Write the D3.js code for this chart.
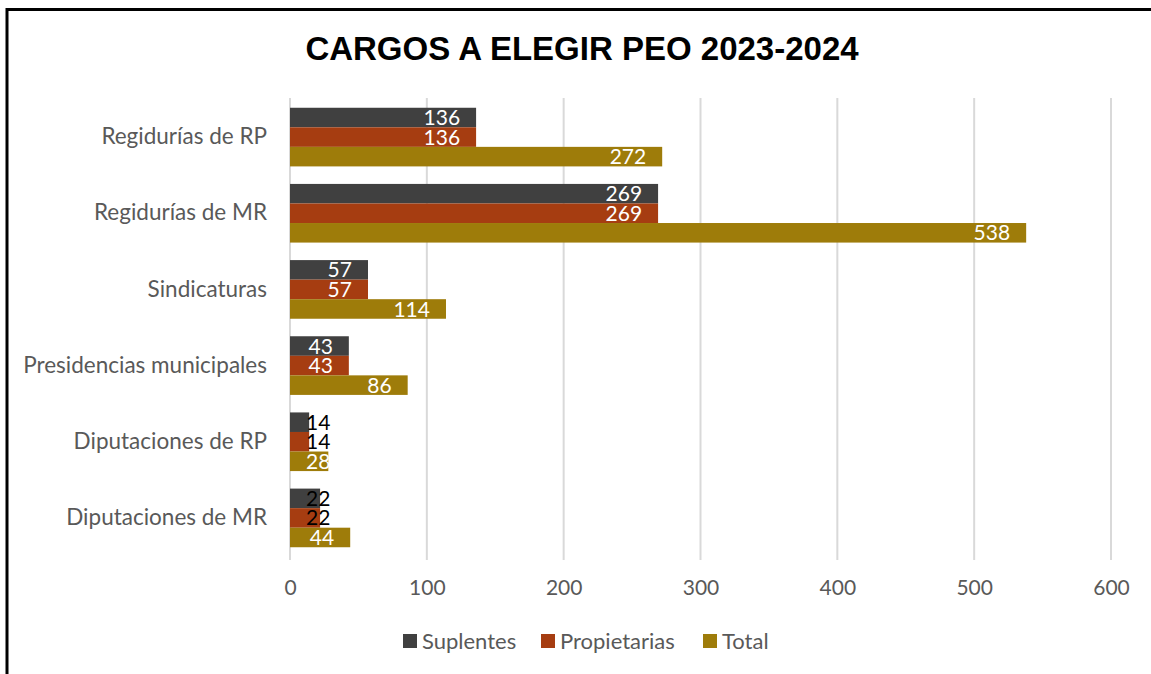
<!doctype html>
<html lang="es">
<head>
    <meta charset="utf-8">
    <script src="https://d3js.org/d3.v7.min.js"></script>
    <title>Cargos a elegir PEO 2023-2024</title>
    <style>
        body { margin: 0; background: #fff; }
    </style>
</head>
<body>
    <svg id="svg"></svg>
    <script>
        let width = 1151, height = 674;

        // data
        const categories = ["Regidurías de RP", "Regidurías de MR", "Sindicaturas",
            "Presidencias municipales", "Diputaciones de RP", "Diputaciones de MR"];
        const series = ["Suplentes", "Propietarias", "Total"];
        const suplentes = [136, 269, 57, 43, 14, 22];
        const propietarias = [136, 269, 57, 43, 14, 22];
        const total = [272, 538, 114, 86, 28, 44];
        const xTicks = [0, 100, 200, 300, 400, 500, 600];

        const colors = ["#404040", "#a63d11", "#9e7c0a"];
        const values = [suplentes, propietarias, total];

        let rows = [];
        categories.forEach((c, i) => {
            series.forEach((s, j) => rows.push({ cat: c, ser: s, value: values[j][i], k: j }));
        });

        let svg = d3.select("#svg").attr("width", width).attr("height", height);
        let font = "Lato, 'Open Sans', sans-serif";

        // frame
        svg.append("rect")
            .attr("x", 7).attr("y", 9.5)
            .attr("width", width + 20).attr("height", height + 20)
            .attr("fill", "none").attr("stroke", "#000").attr("stroke-width", 3);

        svg.append("text")
            .attr("x", 582).attr("y", 60)
            .attr("text-anchor", "middle")
            .attr("font-family", "Arial, 'Liberation Sans', sans-serif")
            .attr("font-weight", "bold").attr("font-size", 33)
            .attr("fill", "#000")
            .text("CARGOS A ELEGIR PEO 2023-2024");

        let xScale = d3.scaleLinear().domain([0, 600]).range([290, 1111]);
        let yScale = d3.scaleBand().domain(categories).range([99, 556])
            .paddingInner(0.23).paddingOuter(0.115);
        let sScale = d3.scaleBand().domain(series).range([0, yScale.bandwidth()]);

        // grid
        svg.append("g").selectAll("line")
            .data(xTicks)
            .join("line")
            .attr("x1", d => xScale(d)).attr("x2", d => xScale(d))
            .attr("y1", 98).attr("y2", 560)
            .attr("stroke", "#d9d9d9").attr("stroke-width", 2);

        // x axis labels
        let xAxis = svg.append("g").attr("transform", "translate(0, 580)")
            .call(d3.axisBottom(xScale).tickValues(xTicks).tickSize(0).tickPadding(0));
        xAxis.select(".domain").remove();
        xAxis.selectAll(".tick text")
            .attr("font-family", font).attr("font-size", 21).attr("fill", "#595959")
            .attr("dy", "0.71em");

        // y axis labels
        let yAxis = svg.append("g").attr("transform", "translate(267, 0)")
            .call(d3.axisLeft(yScale).tickSize(0).tickPadding(0));
        yAxis.select(".domain").remove();
        yAxis.selectAll(".tick text")
            .attr("font-family", font).attr("font-size", 22.5).attr("fill", "#595959");

        // bars
        let container = svg.append("g");
        container.selectAll("rect")
            .data(rows)
            .join("rect")
            .attr("x", xScale(0))
            .attr("y", d => yScale(d.cat) + sScale(d.ser))
            .attr("width", d => xScale(d.value) - xScale(0))
            .attr("height", sScale.bandwidth())
            .attr("fill", d => colors[d.k]);

        // value labels (inside end, pushed out when bar is too short)
        let labels = container.selectAll("text.val")
            .data(rows)
            .join("text")
            .attr("class", "val")
            .attr("font-family", font).attr("font-size", 21)
            .attr("y", d => yScale(d.cat) + sScale(d.ser) + sScale.bandwidth() / 2)
            .attr("dy", "0.36em")
            .text(d => d.value);

        labels.each(function (d) {
            let w = this.getComputedTextLength();
            let end = xScale(d.value);
            let right = end - 16;
            if (right - w < xScale(0) + 16) right = xScale(0) + 16 + w;
            d3.select(this)
                .attr("x", right)
                .attr("text-anchor", "end")
                .attr("fill", right <= end + 4 ? "#fff" : "#000");
        });

        // legend
        let legendX = [403, 541, 703];
        let legend = svg.append("g").selectAll("g")
            .data(series)
            .join("g")
            .attr("transform", (d, i) => `translate(${legendX[i]}, 641)`);
        legend.append("rect")
            .attr("x", 0).attr("y", -7).attr("width", 14).attr("height", 14)
            .attr("fill", (d, i) => colors[i]);
        legend.append("text")
            .attr("x", 19).attr("dy", "0.36em")
            .attr("font-family", font).attr("font-size", 22).attr("fill", "#595959")
            .text(d => d);
    </script>
</body>
</html>
